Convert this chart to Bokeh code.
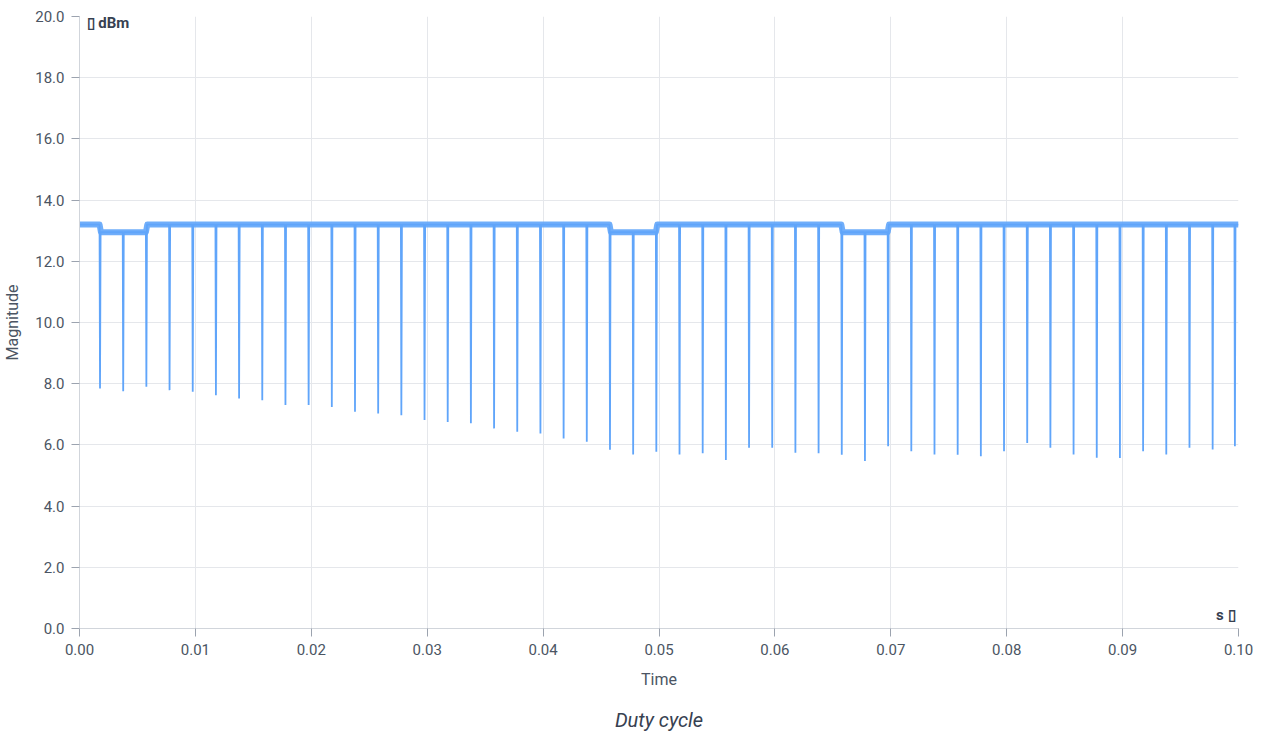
from bokeh.plotting import figure
from bokeh.models import Range1d, Label, FixedTicker, NumeralTickFormatter, LinearAxis
from bokeh.embed import file_html
from bokeh.resources import INLINE

# ---- data ----
title_text = "Duty cycle"
dip_times = [0.00173, 0.00373, 0.00573, 0.00773, 0.00973, 0.01173, 0.01373, 0.01573, 0.01773, 0.01973,
             0.02173, 0.02373, 0.02573, 0.02773, 0.02973, 0.03173, 0.03373, 0.03573, 0.03773, 0.03973,
             0.04173, 0.04373, 0.04573, 0.04773, 0.04973, 0.05173, 0.05373, 0.05573, 0.05773, 0.05973,
             0.06173, 0.06373, 0.06573, 0.06773, 0.06973, 0.07173, 0.07373, 0.07573, 0.07773, 0.07973,
             0.08173, 0.08373, 0.08573, 0.08773, 0.08973, 0.09173, 0.09373, 0.09573, 0.09773, 0.09965]
dip_levels = [7.84, 7.75, 7.90, 7.79, 7.74, 7.62, 7.52, 7.46, 7.30, 7.30,
              7.24, 7.08, 7.03, 6.97, 6.81, 6.75, 6.71, 6.54, 6.43, 6.37,
              6.21, 6.10, 5.84, 5.69, 5.78, 5.69, 5.73, 5.51, 5.91, 5.91,
              5.74, 5.73, 5.68, 5.47, 5.96, 5.79, 5.69, 5.68, 5.63, 5.79,
              6.06, 5.91, 5.69, 5.58, 5.57, 5.79, 5.69, 5.91, 5.85, 5.96]
# baseline level of each stretch: before the first dip, then after each dip
base_levels = [13.20,
               12.95, 12.95, 13.20, 13.20, 13.20, 13.20, 13.20, 13.20, 13.20, 13.20,
               13.20, 13.20, 13.20, 13.20, 13.20, 13.20, 13.20, 13.20, 13.20, 13.20,
               13.20, 13.20, 12.95, 12.95, 13.20, 13.20, 13.20, 13.20, 13.20, 13.20,
               13.20, 13.20, 12.95, 12.95, 13.20, 13.20, 13.20, 13.20, 13.20, 13.20,
               13.20, 13.20, 13.20, 13.20, 13.20, 13.20, 13.20, 13.20, 13.20, 13.20]
x_start, x_end = 0.0, 0.1
y_ticks = [0, 2, 4, 6, 8, 10, 12, 14, 16, 18, 20]
x_ticks = [0.0, 0.01, 0.02, 0.03, 0.04, 0.05, 0.06, 0.07, 0.08, 0.09, 0.1]

LINE = "#60a5fa"
TXT = "#4b5563"
FONT = "Roboto"

p = figure(width=1253, height=734, output_backend="svg", toolbar_location=None,
           x_range=Range1d(0, 0.1), y_range=Range1d(0, 20),
           min_border_left=79, min_border_right=15, min_border_top=16, min_border_bottom=106)
p.outline_line_color = None
p.background_fill_color = "white"
p.border_fill_color = "white"

for ax in (p.xaxis, p.yaxis):
    ax.axis_line_color = "#d1d5db"
    ax.major_tick_line_color = "#9ca3af"
    ax.major_tick_out = 8
    ax.major_tick_in = 0
    ax.major_label_standoff = 7
    ax.minor_tick_line_color = None
    ax.major_label_text_font = FONT
    ax.major_label_text_font_size = "15px"
    ax.major_label_text_color = TXT
    ax.axis_label_text_font = FONT
    ax.axis_label_text_font_size = "16px"
    ax.axis_label_text_color = TXT
    ax.axis_label_text_font_style = "normal"
p.xaxis.axis_label_standoff = 12
p.yaxis.axis_label_standoff = 10

p.xaxis.axis_label = "Time"
p.yaxis.axis_label = "Magnitude"
p.xaxis.ticker = FixedTicker(ticks=x_ticks)
p.yaxis.ticker = FixedTicker(ticks=y_ticks)
p.xaxis.formatter = NumeralTickFormatter(format="0.00")
p.yaxis.formatter = NumeralTickFormatter(format="0.0")

p.xgrid.ticker = FixedTicker(ticks=x_ticks)
p.ygrid.ticker = FixedTicker(ticks=y_ticks)
p.grid.grid_line_color = "#e5e7eb"
p.grid.grid_line_width = 1

# chart title: an empty axis placed under the x axis, carrying only its label
title_axis = LinearAxis(ticker=FixedTicker(ticks=[]), axis_label=title_text,
                        axis_line_color=None, major_tick_line_color=None,
                        minor_tick_line_color=None, major_tick_out=0, major_tick_in=0,
                        minor_tick_out=0, minor_tick_in=0, major_label_standoff=0,
                        axis_label_standoff=16, axis_label_text_font=FONT,
                        axis_label_text_font_size="20px", axis_label_text_font_style="italic",
                        axis_label_text_color="#374151")
p.add_layout(title_axis, "below")

# baseline band (noisy plateau between the dips)
bx, by = [x_start], [base_levels[0]]
for i, t in enumerate(dip_times):
    bx += [t, t + 0.00012]
    by += [base_levels[i], base_levels[i + 1]]
bx.append(x_end)
by.append(base_levels[-1])
p.line(bx, by, line_color=LINE, line_width=6, line_alpha=0.9, line_join="round")

# full trace with the dips
lx, ly = [x_start], [base_levels[0]]
for i, t in enumerate(dip_times):
    lx += [t, t + 0.00004, t + 0.00009]
    ly += [base_levels[i], dip_levels[i], base_levels[i + 1]]
lx.append(x_end)
ly.append(base_levels[-1])
p.line(lx, ly, line_color=LINE, line_width=1.8)

p.add_layout(Label(x=x_end, y=0, x_offset=-3, y_offset=5, text="s \u25AF",
                   text_font=FONT, text_font_size="15px", text_font_style="bold",
                   text_color="#374151", text_align="right", text_baseline="bottom"))
p.add_layout(Label(x=x_start, y=20, x_offset=7, y_offset=3, text="\u25AF dBm",
                   text_font=FONT, text_font_size="15px", text_font_style="bold",
                   text_color="#374151", text_align="left", text_baseline="top"))

open("out.html", "w").write(file_html(p, INLINE))
